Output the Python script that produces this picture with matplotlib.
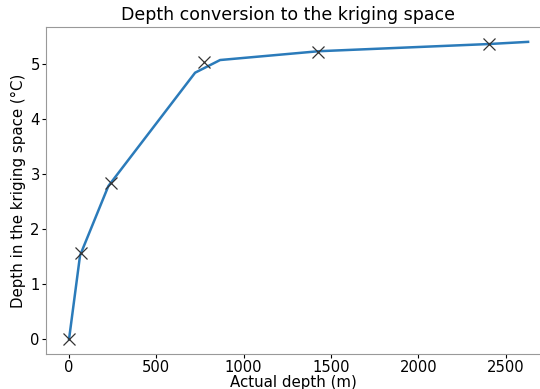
import matplotlib
matplotlib.use("Agg")
import matplotlib.pyplot as plt

# conversion curve (actual depth -> kriging space)
curve_depth = [0, 63, 225, 722, 865, 1430, 2400, 2629]
curve_value = [0.0, 1.52, 2.78, 4.84, 5.07, 5.23, 5.36, 5.40]

# sampled points
obs_depth = [0, 69, 240, 773, 1426, 2405]
obs_value = [0.0, 1.56, 2.83, 5.04, 5.22, 5.36]

fig = plt.figure(figsize=(5.40, 3.89), dpi=100)
ax = fig.add_axes([46 / 540, 35 / 389, (541 - 46) / 540, (354 - 27) / 389])

ax.plot(curve_depth, curve_value, color="#2b7bba", linewidth=1.8)
ax.plot(obs_depth, obs_value, "x", color="#333333", markersize=8, markeredgewidth=0.9)

ax.set_xlim(-132, 2703)
ax.set_ylim(-0.27, 5.67)
ax.set_xticks([0, 500, 1000, 1500, 2000, 2500])
ax.set_yticks([0, 1, 2, 3, 4, 5])
ax.tick_params(labelsize=10.6, length=3, pad=1.5)

ax.set_title("Depth conversion to the kriging space", fontsize=12.5, x=0.489, pad=5)
ax.set_xlabel("Actual depth (m)", fontsize=10.8, labelpad=0)
ax.set_ylabel("Depth in the kriging space (°C)", fontsize=10.8, labelpad=3)

for s in ax.spines.values():
    s.set_color("#999999")

fig.savefig("out.png", dpi=100)
